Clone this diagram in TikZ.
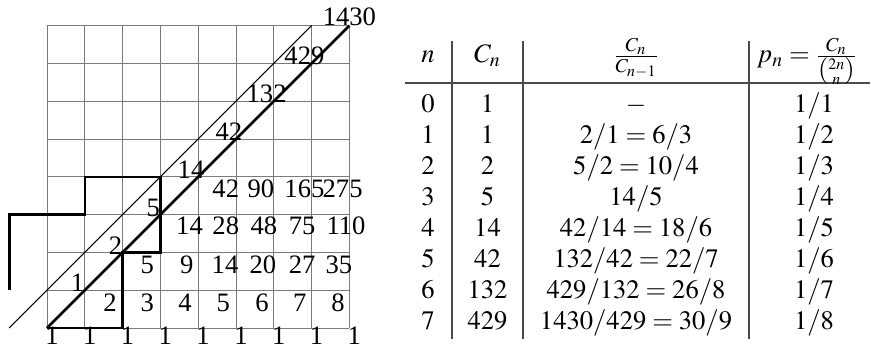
\documentclass[tikz,border=0pt]{standalone}
\usepackage{amsmath}
\usepackage{mathptmx}
\usepackage{fontspec}
\setmainfont{Liberation Serif}
\usepackage{tikz}
\usetikzlibrary{positioning,calc}
\definecolor{gridgray}{HTML}{7A7A7A}
\definecolor{rulegray}{HTML}{4A4A4A}

\begin{document}
\begin{tikzpicture}[x=0.5pt,y=0.5pt,
      lbl/.style={inner sep=0pt,font=\fontsize{13.3}{16}\selectfont},
      cell/.style={lbl,anchor=base},
      bold/.style={line width=1.3pt,line join=miter},
      thin/.style={line width=0.5pt},
      rule/.style={draw=rulegray,line width=0.8pt}]
    \useasboundingbox (0,0) rectangle (871,349);
    % lattice with the two diagonals
    \begin{scope}[shift={(23.5pt,10.5pt)},x=18.9pt,y=18.9pt]
      \draw[thin,draw=gridgray,step=1] (0,0) grid (8,8);
      \draw[thin] (-1,0) coordinate (t0) -- (7,8) coordinate (t1);
      \draw[bold] (-1,1) -- (-1,3) -- (1,3) -- (1,4) -- (3,4) -- (3,2) -- (2,2) -- (2,0) -- (0,0);
      \draw[bold] (0,0) coordinate (s0) -- (8,8) coordinate (s1);
      \foreach \v/\i in {1/1,2/2,5/3,14/4,42/5,132/6,429/7}
        \node[lbl] (d\i) at (\i-0.19,\i+0.19) {\v};
      \node[lbl] (d8) at (8,8.23) {1430};
      \foreach \v/\gx/\gy [count=\k] in {2/1.67/0.66,3/2.65/0.66,4/3.65/0.66,5/4.66/0.66,6/5.69/0.66,7/6.69/0.66,8/7.70/0.66,
          5/2.65/1.67,9/3.70/1.67,14/4.71/1.67,20/5.71/1.67,27/6.75/1.67,35/7.72/1.67,
          14/3.77/2.70,28/4.73/2.70,48/5.74/2.70,75/6.75/2.70,110/7.91/2.70,
          42/4.73/3.68,90/5.66/3.68,165/6.81/3.68,275/7.82/3.68}
        \node[lbl] (m\k) at (\gx,\gy) {\v};
      \foreach \k in {0,...,8}
        \node[lbl] (b\k) at (\k+0.13,-0.21) {1};
    \end{scope}
    % table
    \draw[rule] (452,308) -- (452,10);
    \draw[rule] (523,308) -- (523,10);
    \draw[rule] (749,308) -- (749,10);
    \draw[rule] (405,266) -- (870,266);
    \node[cell] (hn) at (428,286) {$n$};
    \node[cell] (hc) at (487.5,286) {$C_n$};
    \node[cell] (hr) at (636,286) {$\frac{C_n}{C_{n-1}}$};
    \node[cell] (hp) at (807,286) {$p_n=\frac{C_n}{\binom{2n}{n}}$};
    \foreach \n/\c/\q [count=\r from 0] in {0/1/{-},1/1/{2/1=6/3},2/2/{5/2=10/4},3/5/{14/5},
        4/14/{42/14=18/6},5/42/{132/42=22/7},6/132/{429/132=26/8},7/429/{1430/429=30/9}}{
      \node[cell] (n\r) at (428,237-31.14*\r) {$\n$};
      \node[cell] (c\r) at (487.5,237-31.14*\r) {$\c$};
      \node[cell] (q\r) at (636,237-31.14*\r) {$\q$};
      \node[cell] (p\r) at (814,237-31.14*\r) {$1/\the\numexpr\r+1\relax$};
    }
  \end{tikzpicture}
\end{document}
